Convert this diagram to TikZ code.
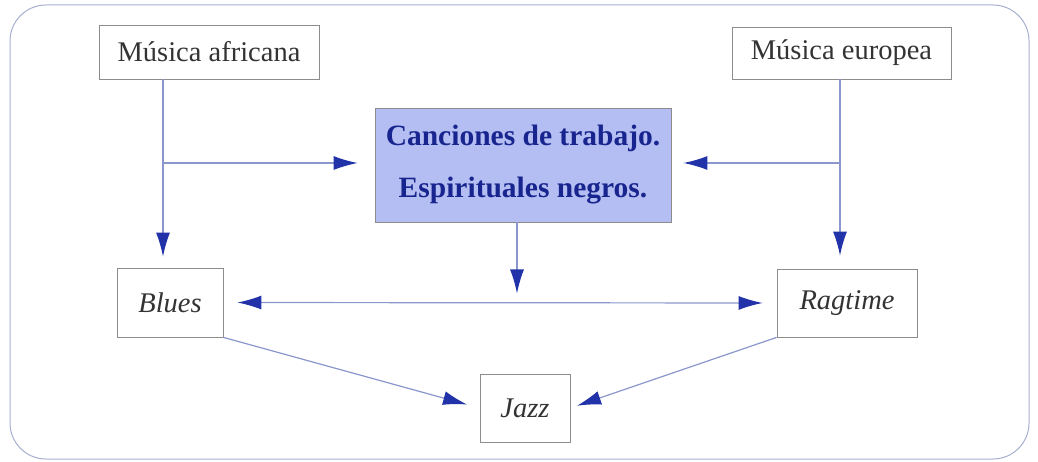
\documentclass[tikz,border=0pt]{standalone}
\usepackage{fontspec}
\setmainfont{Liberation Serif}
\usetikzlibrary{arrows.meta}
\definecolor{linec}{HTML}{8A96CC}
\definecolor{headc}{HTML}{2233AA}
\definecolor{boxc}{HTML}{8C8C8C}
\definecolor{txtc}{HTML}{333333}
\definecolor{fillc}{HTML}{B5BEF2}
\definecolor{ctxt}{HTML}{18258F}
\definecolor{outc}{HTML}{A6AECF}
\begin{document}
\begin{tikzpicture}[x=1pt,y=-1pt,
  plainbox/.style={draw=boxc,line width=0.8pt,inner sep=0pt,text=txtc,font=\fontsize{28.5}{32}\selectfont},
  centerbox/.style={draw=boxc,line width=0.8pt,fill=fillc,inner sep=0pt,text=ctxt,align=center,font=\fontsize{29.5}{52}\selectfont\bfseries},
  conn/.style={draw=linec,line width=1.2pt,-{Latex[length=24pt,width=14pt,color=headc]}},
  conn2/.style={draw=linec,line width=1.2pt,{Latex[length=24pt,width=14pt,color=headc]}-{Latex[length=24pt,width=14pt,color=headc]}}]
\useasboundingbox (0,0) rectangle (1038,462);
\draw[outc,line width=1pt,rounded corners=36pt] (10,5) rectangle (1029,459);
\node[plainbox,minimum width=220pt,minimum height=54pt] (africana) at (209,52) {Música africana};
\node[plainbox,minimum width=219pt,minimum height=52pt] (europea) at (841.5,53) {Música europea};
\node[centerbox,minimum width=296pt,minimum height=114pt] (central) at (523,165) {Canciones de trabajo.\\Espirituales negros.};
\node[plainbox,minimum width=106pt,minimum height=69pt] (blues) at (170,302.5) {\itshape Blues};
\node[plainbox,minimum width=140pt,minimum height=68pt] (ragtime) at (847,303) {\itshape Ragtime};
\node[plainbox,minimum width=90pt,minimum height=68pt] (jazz) at (525,408) {\itshape Jazz};
\coordinate (jl) at (163,163);
\coordinate (jr) at (840,163);
\coordinate (jm) at (517,302.5);
\draw[conn,shorten >=11pt] (jl |- africana.south) -- (jl |- blues.north);
\draw[conn,shorten >=17pt] (jl) -- (jl -| central.west);
\draw[conn,shorten >=13pt] (jr |- europea.south) -- (jr |- ragtime.north);
\draw[conn,shorten >=12pt] (jr) -- (jr -| central.east);
\draw[conn,shorten >=9pt] (central.south -| jm) -- (jm);
\draw[conn2,shorten <=14pt,shorten >=14pt] (blues.east) -- (ragtime.west);
\draw[conn,shorten >=13pt] (blues.south east) -- (jazz.west);
\draw[conn,shorten >=7pt] (ragtime.south west) -- (jazz.east);
\end{tikzpicture}
\end{document}
